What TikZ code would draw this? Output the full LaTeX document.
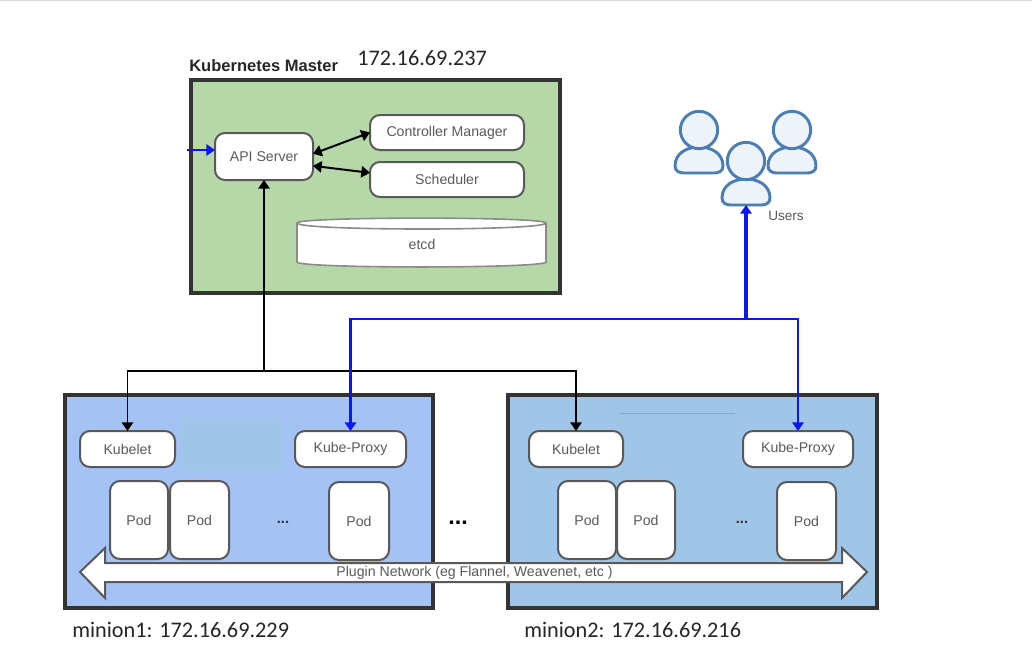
\documentclass[tikz,border=0pt]{standalone}
\usepackage{fontspec}
\setmainfont{Liberation Sans}
\newfontfamily\calibri{Carlito}
\usetikzlibrary{arrows.meta,calc}
\definecolor{masterfill}{HTML}{B6D7A8}
\definecolor{minionA}{HTML}{A4C2F4}
\definecolor{minionB}{HTML}{9FC5E8}
\definecolor{framecol}{HTML}{333333}
\definecolor{boxline}{HTML}{595959}
\definecolor{txtcol}{HTML}{595959}
\definecolor{bluelink}{HTML}{0B16F0}
\definecolor{userline}{HTML}{4A7EB5}
\definecolor{userfill}{HTML}{EEF2F9}
\tikzset{
  frame/.style={draw=framecol,line width=3pt,inner sep=0pt,outer sep=0pt},
  rbox/.style={draw=boxline,fill=white,line width=1.5pt,rounded corners=7.5pt,inner sep=0pt,outer sep=0pt,text=txtcol,font=\fontsize{10.6}{12}\selectfont},
  blacklink/.style={draw=black,line width=1.5pt},
  bluewire/.style={draw=bluelink,line width=1.9pt},
  tip/.style={-{Triangle[length=6.5pt,width=8.5pt]}},
  dtip/.style={{Triangle[length=6.5pt,width=8.5pt]}-{Triangle[length=6.5pt,width=8.5pt]}},
  iplabel/.style={font=\calibri\fontsize{16.7}{19}\selectfont,text=black!85,inner sep=0pt},
  person/.style={draw=userline,fill=userfill,line width=2.2pt},
}
\newcommand{\frm}[6]{% name x1 y1 x2 y2 fill
  \node[frame,fill=#6,minimum width={(#4-#2)*0.75pt},minimum height={(#5-#3)*0.75pt}] (#1) at ({(#2+#4)/2},{(#3+#5)/2}) {};}
\newcommand{\rb}[6]{% name x1 y1 x2 y2 text
  \node[rbox,minimum width={(#4-#2)*0.75pt},minimum height={(#5-#3)*0.75pt}] (#1) at ({(#2+#4)/2},{(#3+#5)/2}) {#6};}
\newcommand{\usr}[4]{% name headx heady bodybottom
  \draw[person] ({#2-24},{#4-7}) .. controls ({#2-24},{#4-20}) and ({#2-12},{#4-26}) .. ({#2},{#4-26})
     .. controls ({#2+12},{#4-26}) and ({#2+24},{#4-20}) .. ({#2+24},{#4-7})
     .. controls ({#2+24},{#4-2}) and ({#2+20},{#4}) .. ({#2+15},{#4}) -- ({#2-15},{#4})
     .. controls ({#2-20},{#4}) and ({#2-24},{#4-2}) .. ({#2-24},{#4-7}) -- cycle;
  \draw[person] (#2,#3) circle[radius=14pt];
  \coordinate (#1) at (#2,#4);}
\begin{document}
\begin{tikzpicture}[x=0.75pt,y=-0.75pt]
\useasboundingbox (0,0) rectangle (1032,665);
\fill[white] (0,0) rectangle (1032,665);
\fill[black!15] (0,0) rectangle (1032,1.2);

% Master
\frm{master}{191}{80}{560}{293}{masterfill}
\node[anchor=base west,inner sep=0pt,font=\bfseries\fontsize{12.4}{14}\selectfont,text=black!85] (mastertitle) at (189,71) {Kubernetes Master};
\node[iplabel,anchor=base west] (masterip) at (357,65) {172.16.69.237};
\rb{api}{215}{133}{313}{180}{API Server}
\rb{ctrl}{370}{115}{524}{150}{Controller Manager}
\rb{sched}{370}{162}{524}{197}{Scheduler}
% etcd
\draw[draw=boxline!70,fill=white,line width=1.2pt] (297,223) .. controls (297,216.5) and (546,216.5) .. (546,223)
  -- (546,262) .. controls (546,268.6) and (297,268.6) .. (297,262) -- cycle;
\draw[draw=boxline!70,line width=1.2pt] (297,223) .. controls (297,231) and (546,231) .. (546,223);
\node[text=txtcol,inner sep=0pt,font=\fontsize{10.6}{12}\selectfont] (etcd) at (422,244) {etcd};

% Minion 1
\frm{mA}{65}{395}{433}{608}{minionA}
\fill[minionB] (180,418) rectangle (282,471);
\rb{kA}{80}{431}{175}{467}{Kubelet}
\rb{pA}{295}{431}{406}{467}{Kube-Proxy}
\rb{podA}{110}{481}{168}{559}{Pod}
\rb{podB}{170}{481}{229}{559}{Pod}
\rb{podC}{329}{482}{389}{560}{Pod}
\node[inner sep=0pt,font=\bfseries\fontsize{11}{12}\selectfont,text=framecol] (dotsA) at (283,522) {...};

% Minion 2
\frm{mB}{508}{395}{877}{608}{minionB}
\draw[minionB!85!black,line width=0.6pt] (620,413) -- (735,413);
\rb{kB}{529}{431}{623}{467}{Kubelet}
\rb{pB}{743}{431}{853}{467}{Kube-Proxy}
\rb{podD}{558}{481}{616}{559}{Pod}
\rb{podE}{617}{481}{675}{559}{Pod}
\rb{podF}{777}{482}{836}{560}{Pod}
\node[inner sep=0pt,font=\bfseries\fontsize{11}{12}\selectfont,text=framecol] (dotsB) at (742,522) {...};
\node[inner sep=0pt,font=\bfseries\fontsize{17.5}{19}\selectfont,text=black] (dotsM) at (458,523) {...};

% Plugin network arrow
\draw[draw=boxline,fill=white,line width=1.5pt,line join=miter]
  (80,572) -- (105,548) -- (105,563) -- (842,563) -- (842,548) -- (867,572) -- (842,598) -- (842,582) -- (105,582) -- (105,598) -- cycle;
\node[text=txtcol,inner sep=0pt,font=\fontsize{10.6}{12}\selectfont] (plugin) at (474.5,572.5) {Plugin Network (eg Flannel, Weavenet, etc )};

\node[iplabel,anchor=base west] (labA) at (72,637) {minion1: 172.16.69.229};
\node[iplabel,anchor=base west] (labB) at (524,637) {minion2: 172.16.69.216};

% Users
\usr{uL}{699}{130}{173}
\usr{uR}{792}{130}{173}
\usr{uM}{746}{161}{205}
\node[text=txtcol,anchor=west,inner sep=0pt,font=\fontsize{10.2}{12}\selectfont] (users) at (768,216) {Users};

% Connectors
\coordinate (leftin) at (187,150);
\coordinate (jblack) at (264,371);
\coordinate (jblue) at (746,319);
\draw[bluewire,tip] (leftin) -- (leftin -| api.west);
\draw[blacklink,dtip] ([yshift=2pt]api.east) -- ([yshift=0pt]ctrl.west);
\draw[blacklink,dtip] ([yshift=-7pt]api.east) -- ([yshift=5pt]sched.west);
\draw[blacklink,line width=2.1pt,tip] (jblack) -- (jblack |- api.south);
\draw[blacklink,line width=1.4pt,tip] (jblack) -| (kA.north);
\draw[blacklink,line width=1.4pt,tip] (jblack) -| (kB.north);
\draw[bluewire,line width=2.4pt,tip] (jblue) -- (uM);
\draw[bluewire,line width=1.7pt,tip] (jblue) -| (pA.north);
\draw[bluewire,line width=1.7pt,tip] (jblue) -| (pB.north);
\end{tikzpicture}
\end{document}
